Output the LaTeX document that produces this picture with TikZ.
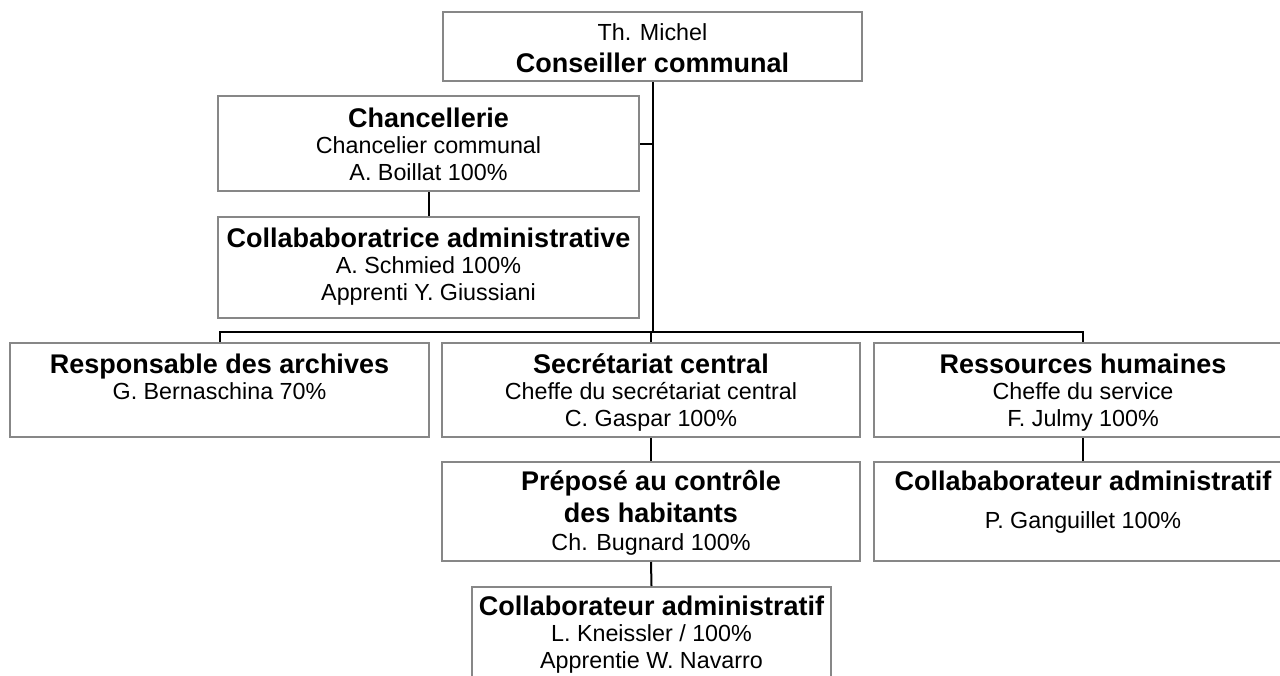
\documentclass[tikz,border=0pt]{standalone}
\usepackage{fontspec}
\setmainfont{Liberation Sans}
\newcommand{\fl}{\rule{0pt}{21pt}}
\newcommand{\bt}[1]{{\fontsize{27}{26.5}\selectfont\bfseries #1}}
\begin{document}
\begin{tikzpicture}[x=1pt,y=-1pt,
  box/.style={draw=black!47, line width=2pt, fill=white, inner sep=0pt, rectangle},
  txt/.style={anchor=north, align=center, inner sep=0pt, font=\fontsize{23.3}{26.5}\selectfont},
  conn/.style={draw=black, line width=2pt}]
\useasboundingbox (0,0) rectangle (1280,675);
\clip (0,0) rectangle (1280,675);
\fill[white] (0,0) rectangle (1280,675);
% boxes
\node[box, minimum width=419pt, minimum height=69pt] (top) at (652.5,46.5) {};
\node[box, minimum width=421pt, minimum height=95pt] (chan) at (428.5,143.5) {};
\node[box, minimum width=421pt, minimum height=101pt] (ca) at (428.5,267.5) {};
\node[box, minimum width=419pt, minimum height=94pt] (resp) at (219.5,390) {};
\node[box, minimum width=418pt, minimum height=94pt] (sec) at (651,390) {};
\node[box, minimum width=418pt, minimum height=94pt] (rh) at (1083,390) {};
\node[box, minimum width=418pt, minimum height=99pt] (prep) at (651,511.5) {};
\node[box, minimum width=418pt, minimum height=99pt] (rhc) at (1083,511.5) {};
\node[box, minimum width=359pt, minimum height=113pt] (kn) at (651.5,643.5) {};
% texts
\node[txt] (top-t) at (652.5,19) {\fl Th. Michel\\[5.5pt] \bt{Conseiller communal}};
\node[txt] (chan-t) at (428.5,106) {\fl\bt{Chancellerie}\\ Chancelier communal\\ A. Boillat 100\%};
\node[txt] (ca-t) at (428.5,226) {\fl\bt{Collababoratrice administrative}\\ A. Schmied 100\%\\ Apprenti Y. Giussiani};
\node[txt] (resp-t) at (219.5,352) {\fl\bt{Responsable des archives}\\ G. Bernaschina 70\%};
\node[txt] (sec-t) at (651,352) {\fl\bt{Secrétariat central}\\ Cheffe du secrétariat central\\ C. Gaspar 100\%};
\node[txt] (rh-t) at (1083,352) {\fl\bt{Ressources humaines}\\ Cheffe du service\\ F. Julmy 100\%};
\node[txt] (prep-t) at (651,469) {\fl\bt{Préposé au contrôle}\\[5.5pt] \bt{des habitants}\\[1.5pt] Ch. Bugnard 100\%};
\node[txt] (rhc-t) at (1083,469) {\fl\bt{Collababorateur administratif}\\[11.5pt] P. Ganguillet 100\%};
\node[txt] (kn-t) at (651.5,594) {\fl\bt{Collaborateur administratif}\\ L. Kneissler / 100\%\\ Apprentie W. Navarro};
% connectors
\coordinate (bar) at (652,332);
\draw[conn] (top.south) -- (top.south |- bar);
\draw[conn] (chan.east) -- (chan.east -| top.south);
\draw[conn] (chan.south) -- (ca.north);
\draw[conn] (resp.north) -- (resp.north |- bar) -- (rh.north |- bar) -- (rh.north);
\draw[conn] (sec.north |- bar) -- (sec.north);
\draw[conn] (sec.south) -- (prep.north);
\draw[conn] (prep.south) -- (kn.north);
\draw[conn] (rh.south) -- (rhc.north);
\end{tikzpicture}
\end{document}
